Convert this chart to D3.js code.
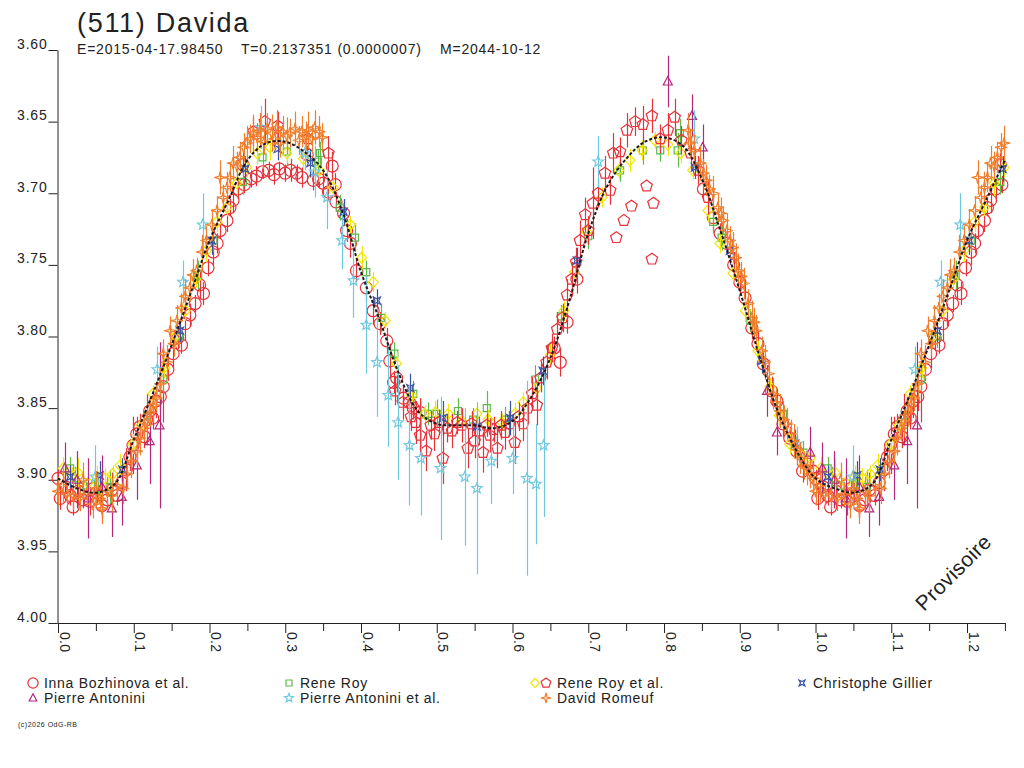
<!DOCTYPE html>
<html><head><meta charset="utf-8">
<script src="https://cdn.jsdelivr.net/npm/d3@7/dist/d3.min.js"></script>
<style>
html,body{margin:0;padding:0;background:#fff;}
svg{display:block;font-family:"Liberation Sans",Arial,sans-serif;}
</style></head><body>
<svg id="chart" width="1024" height="768"></svg>
<script>
// ---------------- DATA ----------------
const titleText = "(511) Davida";
const subtitleParts = ["E=2015-04-17.98450", "T=0.2137351 (0.0000007)", "M=2044-10-12"];
const xMajorTicks = [0.0,0.1,0.2,0.3,0.4,0.5,0.6,0.7,0.8,0.9,1.0,1.1,1.2];
const xMinorTicks = [0.05,0.15,0.25,0.35,0.45,0.55,0.65,0.75,0.85,0.95,1.05,1.15,1.25];
const yTicks = [3.60,3.65,3.70,3.75,3.80,3.85,3.90,3.95,4.00];

// fitted light curve (phase, magnitude)
const fitPhase = [0.000,0.025,0.050,0.075,0.100,0.125,0.150,0.175,0.200,0.225,0.250,0.275,0.300,0.325,0.350,0.375,0.400,0.425,0.450,0.475,0.500,0.525,0.550,0.575,0.600,0.625,0.650,0.675,0.700,0.725,0.750,0.775,0.800,0.825,0.850,0.875,0.900,0.925,0.950,0.975,1.000];
const fitMag   = [3.899,3.906,3.909,3.903,3.872,3.840,3.806,3.770,3.733,3.705,3.677,3.665,3.664,3.671,3.684,3.712,3.755,3.789,3.826,3.852,3.861,3.862,3.862,3.864,3.859,3.842,3.815,3.775,3.728,3.695,3.676,3.664,3.661,3.667,3.690,3.727,3.768,3.812,3.852,3.880,3.899];

// observations: [phase, magnitude, error]
const innaBozhinova = [
[0.000,3.899,0.006],[0.003,3.913,0.008],[0.010,3.905,0.005],[0.016,3.911,0.007],[0.020,3.919,0.006],[0.027,3.908,0.009],[0.033,3.914,0.006],[0.042,3.915,0.010],[0.047,3.906,0.005],[0.051,3.909,0.007],[0.058,3.918,0.008],[0.065,3.914,0.006],[0.071,3.907,0.012],[0.078,3.911,0.007],[0.084,3.902,0.009],[0.090,3.893,0.015],[0.095,3.884,0.010],[0.099,3.876,0.020],[0.104,3.868,0.012],[0.108,3.863,0.009],[0.114,3.870,0.008],[0.117,3.858,0.018],[0.121,3.852,0.010],[0.125,3.857,0.008],[0.129,3.845,0.012],[0.135,3.842,0.010],[0.139,3.835,0.025],
[0.145,3.823,0.008],[0.152,3.812,0.010],[0.158,3.801,0.008],[0.163,3.806,0.006],[0.168,3.791,0.012],[0.174,3.785,0.008],[0.181,3.777,0.006],[0.187,3.764,0.010],[0.192,3.770,0.008],[0.198,3.752,0.006],[0.205,3.741,0.009],[0.210,3.735,0.007],[0.214,3.726,0.006],[0.223,3.719,0.008],[0.227,3.710,0.006],[0.231,3.705,0.009],[0.238,3.697,0.007],[0.244,3.680,0.008],[0.246,3.694,0.006],
[0.255,3.690,0.006],[0.262,3.688,0.007],[0.270,3.685,0.005],[0.278,3.684,0.006],[0.285,3.687,0.007],[0.292,3.683,0.005],[0.300,3.686,0.006],[0.307,3.684,0.008],[0.315,3.686,0.006],[0.322,3.689,0.007],[0.329,3.673,0.006],[0.337,3.691,0.007],[0.344,3.690,0.006],[0.350,3.693,0.008],[0.357,3.699,0.006],[0.362,3.681,0.010],
[0.366,3.694,0.008],[0.367,3.706,0.007],[0.377,3.714,0.009],[0.381,3.726,0.008],[0.386,3.735,0.010],[0.394,3.754,0.008],[0.407,3.766,0.009],[0.416,3.782,0.010],[0.425,3.791,0.008],[0.434,3.803,0.009],[0.438,3.817,0.012],[0.443,3.832,0.008],[0.447,3.829,0.010],[0.456,3.843,0.009],[0.464,3.846,0.010],[0.469,3.850,0.008],[0.478,3.853,0.010],
[0.655,3.808,0.008],[0.663,3.818,0.010],[0.672,3.790,0.008],[0.685,3.760,0.010],
[0.852,3.697,0.008],[0.865,3.717,0.009],[0.874,3.728,0.007],[0.883,3.735,0.008],[0.892,3.750,0.009],[0.900,3.762,0.008],[0.907,3.773,0.010],[0.916,3.794,0.008],[0.924,3.805,0.009],[0.931,3.819,0.008],[0.942,3.838,0.010],[0.949,3.845,0.008],[0.957,3.861,0.009],[0.966,3.871,0.008],[0.975,3.880,0.010],[0.983,3.894,0.008],[0.989,3.889,0.009],[0.997,3.894,0.008]
];
const reneRoy = [
[0.016,3.892,0.008],[0.022,3.899,0.008],[0.033,3.904,0.010],[0.053,3.903,0.008],[0.068,3.905,0.012],[0.118,3.855,0.006],[0.139,3.830,0.010],[0.160,3.800,0.008],[0.185,3.757,0.010],[0.205,3.733,0.008],[0.244,3.692,0.009],[0.270,3.675,0.008],[0.302,3.671,0.010],[0.343,3.678,0.008],[0.346,3.672,0.008],[0.372,3.710,0.009],[0.392,3.731,0.010],[0.407,3.755,0.008],[0.427,3.787,0.010],[0.444,3.812,0.008],[0.469,3.840,0.009],[0.489,3.854,0.008],[0.500,3.854,0.010],[0.528,3.852,0.009],[0.548,3.858,0.008],[0.566,3.850,0.012],[0.590,3.858,0.009],[0.630,3.830,0.010],[0.664,3.786,0.008],[0.700,3.730,0.009],[0.742,3.684,0.008],[0.772,3.670,0.010],[0.795,3.670,0.008],[0.818,3.670,0.012],[0.821,3.658,0.010],[0.865,3.720,0.008],[0.876,3.731,0.009],[0.914,3.789,0.008],[0.957,3.854,0.009],[0.984,3.881,0.008]
];
const reneRoyEtAlDiamond = [
[0.007,3.892,0.008],[0.018,3.897,0.006],[0.026,3.895,0.010],[0.040,3.902,0.006],[0.052,3.898,0.008],[0.062,3.899,0.007],[0.072,3.896,0.006],[0.082,3.890,0.008],[0.099,3.875,0.007],[0.110,3.862,0.008],[0.125,3.840,0.006],[0.140,3.822,0.007],[0.155,3.800,0.008],[0.168,3.782,0.007],[0.182,3.760,0.006],[0.196,3.740,0.008],[0.210,3.720,0.007],[0.223,3.710,0.006],[0.236,3.693,0.009],[0.249,3.682,0.007],[0.263,3.672,0.008],[0.280,3.668,0.009],[0.302,3.672,0.007],[0.324,3.676,0.006],[0.345,3.684,0.008],[0.363,3.696,0.007],[0.386,3.722,0.006],[0.401,3.745,0.008],[0.416,3.762,0.007],[0.432,3.789,0.006],[0.447,3.819,0.008],[0.467,3.841,0.007],[0.484,3.854,0.006],[0.498,3.853,0.008],[0.515,3.854,0.007],[0.533,3.859,0.006],[0.553,3.854,0.008],[0.568,3.858,0.007],[0.586,3.860,0.006],[0.603,3.854,0.008],[0.614,3.846,0.007],[0.632,3.836,0.006],[0.650,3.813,0.008],[0.668,3.782,0.007],[0.682,3.755,0.006],[0.698,3.727,0.008],[0.718,3.703,0.007],[0.740,3.684,0.006],[0.755,3.677,0.008],[0.771,3.670,0.007],[0.788,3.663,0.006],[0.805,3.666,0.008],[0.822,3.672,0.007],[0.838,3.684,0.006],[0.858,3.712,0.008],[0.874,3.735,0.007],[0.891,3.756,0.006],[0.907,3.782,0.008],[0.924,3.810,0.007],[0.940,3.835,0.006],[0.952,3.855,0.008],[0.966,3.875,0.007],[0.980,3.882,0.006],[0.993,3.885,0.008]
];
const reneRoyEtAlPentagon = [
[0.258,3.657,0.010],[0.273,3.650,0.016],[0.290,3.653,0.010],[0.330,3.662,0.008],[0.357,3.672,0.012],
[0.445,3.838,0.010],[0.455,3.846,0.012],[0.466,3.856,0.010],[0.472,3.860,0.015],[0.478,3.869,0.012],[0.486,3.880,0.014],[0.492,3.862,0.010],[0.497,3.868,0.012],[0.503,3.860,0.009],[0.508,3.885,0.018],[0.514,3.864,0.010],[0.520,3.866,0.012],[0.527,3.860,0.008],[0.533,3.862,0.012],[0.541,3.878,0.014],[0.546,3.861,0.009],[0.550,3.873,0.012],[0.556,3.866,0.010],[0.561,3.881,0.014],[0.566,3.862,0.008],[0.570,3.869,0.012],[0.575,3.865,0.009],[0.580,3.878,0.014],[0.585,3.862,0.010],[0.590,3.867,0.012],[0.596,3.861,0.009],[0.603,3.874,0.015],[0.608,3.856,0.010],[0.614,3.861,0.012],[0.620,3.850,0.009],[0.626,3.840,0.012],[0.632,3.848,0.014],[0.637,3.829,0.010],[0.645,3.818,0.012],
[0.652,3.808,0.010],[0.659,3.795,0.012],[0.666,3.787,0.010],[0.672,3.771,0.011],[0.678,3.760,0.012],[0.684,3.748,0.010],[0.689,3.733,0.014],[0.696,3.715,0.012],[0.700,3.726,0.010],[0.706,3.707,0.025],[0.713,3.700,0.010],[0.722,3.686,0.012],[0.729,3.698,0.010],[0.733,3.672,0.014],[0.742,3.671,0.010],
[0.751,3.656,0.012],[0.762,3.650,0.010],[0.772,3.652,0.013],[0.784,3.646,0.012],[0.795,3.662,0.010],[0.805,3.656,0.012],[0.814,3.647,0.013],[0.823,3.663,0.010],
[0.737,3.731,0],[0.747,3.719,0],[0.757,3.709,0],[0.777,3.695,0],[0.786,3.707,0],[0.784,3.746,0],
[0.835,3.672,0.012],[0.845,3.684,0.010],[0.858,3.703,0.012]
];
const christopheGillier = [
[0.016,3.898,0.008],[0.055,3.897,0.010],[0.085,3.893,0.008],[0.161,3.796,0.008],[0.203,3.733,0.010],[0.247,3.683,0.009],[0.290,3.669,0.008],[0.333,3.679,0.010],[0.377,3.713,0.009],[0.421,3.775,0.008],[0.465,3.836,0.010],[0.508,3.857,0.012],[0.553,3.863,0.010],[0.597,3.857,0.012],[0.640,3.824,0.010],[0.685,3.747,0.009],[0.841,3.682,0.008],[0.887,3.740,0.010],[0.929,3.817,0.009],[0.973,3.875,0.010]
];
const pierreAntonini = [
[0.009,3.892,0.018],[0.025,3.900,0.020],[0.040,3.913,0.028],[0.058,3.905,0.022],[0.071,3.920,0.020],[0.084,3.912,0.020],[0.104,3.890,0.024],[0.121,3.873,0.030],[0.134,3.862,0.058],[0.805,3.622,0.018],[0.837,3.646,0.015],[0.851,3.668,0.016],[0.936,3.838,0.018],[0.949,3.867,0.016],[0.993,3.881,0.018]
];
const pierreAntoniniEtAl = [
[0.049,3.898,0.022],[0.131,3.823,0.016],[0.165,3.762,0.015],[0.191,3.722,0.022],[0.268,3.654,0.015],[0.326,3.672,0.012],[0.339,3.685,0.018],[0.355,3.703,0.022],[0.375,3.733,0.020],[0.390,3.761,0.026],[0.407,3.792,0.034],[0.421,3.818,0.038],[0.436,3.841,0.036],[0.449,3.860,0.040],[0.464,3.876,0.042],[0.479,3.885,0.040],[0.505,3.892,0.050],[0.537,3.898,0.048],[0.553,3.906,0.060],[0.572,3.887,0.030],[0.600,3.885,0.025],[0.619,3.899,0.068],[0.631,3.903,0.042],[0.641,3.876,0.050],[0.713,3.678,0.018],[0.840,3.662,0.020],[0.975,3.875,0.012]
];
const davidRomeuf = [
[0.000,3.908,0.010],[0.006,3.904,0.012],[0.012,3.910,0.008],[0.020,3.911,0.010],[0.029,3.913,0.009],[0.033,3.900,0.012],[0.038,3.910,0.008],[0.046,3.917,0.010],[0.050,3.906,0.012],[0.055,3.913,0.009],[0.058,3.920,0.011],[0.065,3.908,0.010],[0.071,3.911,0.012],[0.078,3.904,0.009],[0.086,3.906,0.011],[0.091,3.896,0.010],[0.097,3.887,0.012],[0.104,3.880,0.010],[0.108,3.871,0.012],[0.113,3.864,0.009],[0.117,3.859,0.011],[0.122,3.853,0.010],[0.126,3.848,0.012],[0.130,3.843,0.009],[0.135,3.833,0.011],[0.139,3.812,0.010],[0.144,3.818,0.012],[0.148,3.796,0.010],[0.153,3.805,0.009],[0.157,3.789,0.011],[0.163,3.780,0.010],[0.168,3.772,0.012],[0.174,3.766,0.010],[0.178,3.757,0.011],[0.183,3.754,0.009],[0.190,3.741,0.012],[0.196,3.733,0.010],[0.203,3.722,0.011],[0.210,3.712,0.010],[0.214,3.689,0.012],[0.218,3.703,0.009],[0.223,3.696,0.011],[0.227,3.689,0.010],[0.231,3.679,0.012],[0.236,3.681,0.010],[0.240,3.675,0.011],[0.245,3.668,0.010],[0.249,3.665,0.012],
[0.254,3.662,0.010],[0.258,3.658,0.013],[0.263,3.661,0.010],[0.267,3.656,0.012],[0.272,3.664,0.009],[0.276,3.655,0.011],[0.282,3.658,0.013],[0.286,3.662,0.010],[0.289,3.654,0.012],[0.293,3.665,0.010],[0.297,3.657,0.011],[0.302,3.660,0.013],[0.306,3.658,0.010],[0.313,3.655,0.012],[0.318,3.663,0.010],[0.322,3.657,0.011],[0.327,3.660,0.010],[0.330,3.656,0.013],[0.335,3.662,0.010],[0.339,3.654,0.012],[0.345,3.657,0.011],[0.349,3.661,0.010],
[0.832,3.656,0.012],[0.834,3.665,0.010],[0.840,3.670,0.011],[0.848,3.679,0.012],[0.852,3.686,0.010],[0.856,3.691,0.011],[0.860,3.697,0.010],[0.865,3.700,0.012],[0.871,3.710,0.010],[0.875,3.714,0.011],[0.878,3.719,0.010],[0.883,3.726,0.012],[0.887,3.733,0.010],[0.891,3.738,0.011],[0.895,3.745,0.010],[0.898,3.754,0.012],[0.902,3.758,0.010],[0.905,3.763,0.011],[0.911,3.777,0.010],[0.916,3.787,0.012],[0.919,3.790,0.010],[0.922,3.796,0.011],[0.929,3.810,0.010],[0.933,3.818,0.012],[0.938,3.826,0.010],[0.944,3.840,0.011],[0.948,3.846,0.010],[0.953,3.852,0.012],[0.958,3.858,0.010],[0.962,3.861,0.011],[0.967,3.868,0.010],[0.971,3.873,0.012],[0.976,3.879,0.010],[0.980,3.885,0.011],[0.985,3.890,0.010],[0.989,3.892,0.012],[0.993,3.896,0.010],[0.997,3.899,0.011]
];

// ---------------- SHAPES ----------------
function polyPath(pts){ return "M" + pts.map(p => p[0].toFixed(2)+","+p[1].toFixed(2)).join("L") + "Z"; }
function starPts(n, ro, ri, rot){
  const pts = [];
  for (let k = 0; k < 2*n; k++){
    const r = k % 2 ? ri : ro;
    const a = rot + k * Math.PI / n;
    pts.push([r*Math.cos(a), r*Math.sin(a)]);
  }
  return pts;
}
const shapes = {
  circle:   s => { const r = 6*s; return `M${r},0A${r},${r} 0 1,1 ${-r},0A${r},${r} 0 1,1 ${r},0Z`; },
  square:   s => { const h = 3.5*s; return polyPath([[-h,-h],[h,-h],[h,h],[-h,h]]); },
  diamond:  s => polyPath([[0,-5.5*s],[5*s,0],[0,5.5*s],[-5*s,0]]),
  pentagon: s => polyPath(d3.range(5).map(k => { const a = -Math.PI/2 + k*2*Math.PI/5; return [6*s*Math.cos(a), 6*s*Math.sin(a)]; })),
  cross4:   s => polyPath(starPts(4, 5*s, 1.8*s, Math.PI/4)),
  triangle: s => polyPath([[0,-5*s],[4.5*s,3.5*s],[-4.5*s,3.5*s]]),
  star5:    s => polyPath(starPts(5, 5.5*s, 2.4*s, -Math.PI/2)),
  star4:    s => polyPath(starPts(4, 6*s, 1.6*s, -Math.PI/2))
};

const seriesList = [
  {name:"Inna Bozhinova et al.",  data:innaBozhinova,        color:"#e8323a", shape:"circle"},
  {name:"Rene Roy",               data:reneRoy,              color:"#5db94a", shape:"square"},
  {name:"Rene Roy et al.",        data:reneRoyEtAlDiamond,   color:"#f2e600", shape:"diamond"},
  {name:"Rene Roy et al.",        data:reneRoyEtAlPentagon,  color:"#e8323a", shape:"pentagon"},
  {name:"Christophe Gillier",     data:christopheGillier,    color:"#3a52a4", shape:"cross4"},
  {name:"Pierre Antonini",        data:pierreAntonini,       color:"#b3287c", shape:"triangle"},
  {name:"Pierre Antonini et al.", data:pierreAntoniniEtAl,   color:"#6ec9df", shape:"star5"},
  {name:"David Romeuf",           data:davidRomeuf,          color:"#f07e2c", shape:"star4"}
];

// ---------------- CHART ----------------
const svg = d3.select("#chart");
const textColor = "#222";
const FONT = '"Liberation Sans",Arial,sans-serif';
const AX = 57.5;
const x = d3.scaleLinear().domain([0, 1.25]).range([58, 1004.9]);
const y = d3.scaleLinear().domain([3.6, 4.0]).range([50, 623]);
const PMAX = 1.25;
const fold = arr => arr.flatMap(d => d[0] + 1 <= PMAX ? [d, [d[0] + 1, d[1], d[2]]] : [d]);

// title
svg.append("text").attr("x", 77).attr("y", 32).attr("font-size", 27).attr("letter-spacing", 1.7)
  .attr("fill", textColor).text(titleText);
const subX = [77, 241, 440];
subtitleParts.forEach((t, i) => svg.append("text").attr("x", subX[i]).attr("y", 54)
  .attr("font-size", 14).attr("letter-spacing", 0.8).attr("fill", textColor).text(t));

// axes
const yAxis = d3.axisLeft(y).tickValues(yTicks).tickSize(9).tickSizeOuter(0).tickFormat(d3.format(".2f"));
const gy = svg.append("g").attr("transform", `translate(${AX},0)`).call(yAxis);
gy.selectAll("text").attr("x", -10).attr("dy", "-2").attr("font-size", 14).attr("letter-spacing", 0.8)
  .attr("fill", textColor).attr("font-family", FONT);
gy.selectAll("line").attr("stroke", textColor);
gy.select(".domain").attr("stroke", textColor);

const xAxisMajor = d3.axisBottom(x).tickValues(xMajorTicks).tickSize(10).tickSizeOuter(0).tickFormat(d3.format(".1f"));
const gx = svg.append("g").attr("transform", "translate(0,623)").call(xAxisMajor);
gx.select(".domain").remove();
gx.selectAll("line").attr("stroke", textColor);
gx.selectAll("text").attr("transform", "translate(1,9) rotate(90)").attr("x", 0).attr("y", 0).attr("dy", 0)
  .attr("text-anchor", "start").attr("font-size", 14).attr("letter-spacing", 0.3)
  .attr("fill", textColor).attr("font-family", FONT);
const xAxisMinor = d3.axisBottom(x).tickValues(xMinorTicks).tickSize(8).tickSizeOuter(0).tickFormat("");
const gx2 = svg.append("g").attr("transform", "translate(0,623)").call(xAxisMinor);
gx2.select(".domain").remove();
gx2.selectAll("line").attr("stroke", textColor);
svg.append("line").attr("x1", AX).attr("x2", x(PMAX) + 0.5).attr("y1", 623.5).attr("y2", 623.5)
  .attr("stroke", textColor);

// data
const plot = svg.append("g");
seriesList.forEach(s => {
  const pts = fold(s.data);
  const g = plot.append("g");
  g.selectAll("line").data(pts.filter(d => d[2] > 0)).join("line")
    .attr("x1", d => Math.round(x(d[0])) + 0.5).attr("x2", d => Math.round(x(d[0])) + 0.5)
    .attr("y1", d => y(d[1] - d[2])).attr("y2", d => y(d[1] + d[2]))
    .attr("stroke", s.color).attr("stroke-width", 1.2);
  g.selectAll("path").data(pts).join("path")
    .attr("d", shapes[s.shape](1))
    .attr("transform", d => `translate(${x(d[0])},${y(d[1])})`)
    .attr("fill", "none").attr("stroke", s.color).attr("stroke-width", 1.2);
});

// fitted curve
const fitPts = fitPhase.map((p, i) => [p, fitMag[i]]);
const fitAll = fitPts.concat(fitPts.filter(d => d[0] > 0 && d[0] + 1 <= PMAX).map(d => [d[0] + 1, d[1]]));
svg.append("path").datum(fitAll)
  .attr("d", d3.line().x(d => x(d[0])).y(d => y(d[1])).curve(d3.curveCatmullRom))
  .attr("fill", "none").attr("stroke", "#1a1a1a").attr("stroke-width", 2).attr("stroke-dasharray", "3,2");

// watermark
svg.append("text").attr("transform", "translate(924,612) rotate(-45)").attr("font-size", 21)
  .attr("letter-spacing", 0.4).attr("fill", textColor).text("Provisoire");

// legend
const legendItems = [
  {sym:[[0,"circle"]],                label:0, col:0, row:0},
  {sym:[[1,"square"]],                label:1, col:1, row:0},
  {sym:[[2,"diamond"],[3,"pentagon"]],label:2, col:2, row:0},
  {sym:[[4,"cross4"]],                label:4, col:3, row:0},
  {sym:[[5,"triangle"]],              label:5, col:0, row:1},
  {sym:[[6,"star5"]],                 label:6, col:1, row:1},
  {sym:[[7,"star4"]],                 label:7, col:2, row:1}
];
const colX = [44, 300, 557, 813];
const rowY = [688, 703];
legendItems.forEach(it => {
  const tx = colX[it.col], ty = rowY[it.row];
  it.sym.slice().reverse().forEach(([si, shp], k) => {
    svg.append("path").attr("d", shapes[shp](0.85))
      .attr("transform", `translate(${tx - 11 - 11*k},${ty - 5})`)
      .attr("fill", "none").attr("stroke", seriesList[si].color).attr("stroke-width", 1.2);
  });
  svg.append("text").attr("x", tx).attr("y", ty).attr("font-size", 14).attr("letter-spacing", 0.7)
    .attr("fill", textColor).text(seriesList[it.label].name);
});

// credit
svg.append("text").attr("x", 18).attr("y", 727).attr("font-size", 7).attr("letter-spacing", 0.5)
  .attr("fill", textColor).text("(c)2026 OdG-RB");
</script>
</body></html>
